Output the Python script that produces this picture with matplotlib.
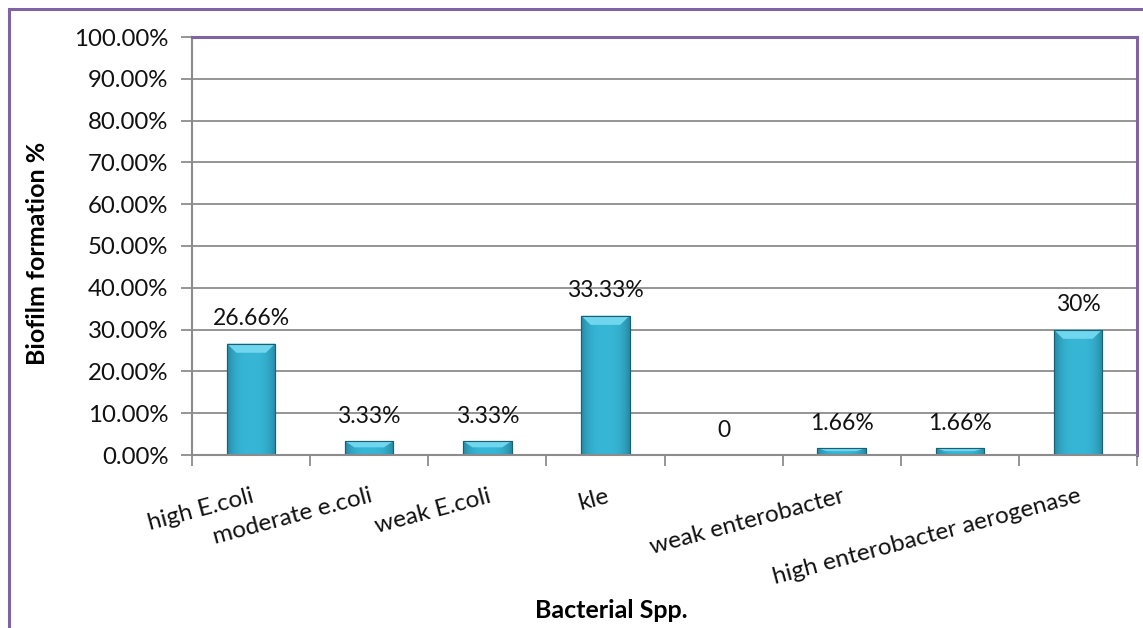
import numpy as np
import matplotlib
matplotlib.use("Agg")
import matplotlib.pyplot as plt
from matplotlib.patches import Rectangle
from matplotlib.ticker import FuncFormatter, FixedLocator

# Biofilm formation by bacterial group
categories = ["high E.coli", "moderate e.coli", "weak E.coli", "kle",
              "", "weak enterobacter", "", "high enterobacter aerogenase"]
values = [26.66, 3.33, 3.33, 33.33, 0.0, 1.66, 1.66, 30.0]
value_labels = ["26.66%", "3.33%", "3.33%", "33.33%", "0", "1.66%", "1.66%", "30%"]
y_ticks = [0, 10, 20, 30, 40, 50, 60, 70, 80, 90, 100]

plt.rcParams["font.family"] = ["Lato", "DejaVu Sans"]

W, H = 1143, 628
fig = plt.figure(figsize=(W / 100, H / 100), dpi=100)
fig.patch.set_facecolor("white")

# outer chart frame
fig.patches.append(Rectangle((9 / W, -0.05), 1.2, (H - 9.5) / H + 0.05,
                             transform=fig.transFigure, fill=False,
                             edgecolor="#8064A2", linewidth=2.2, zorder=0))

ax = fig.add_axes([192 / W, (H - 455) / H, (1137 - 192) / W, (455 - 37) / H])
n = len(values)
x = np.arange(n)
bar_w = 0.41

ax.set_xlim(-0.5, n - 0.5)
ax.set_ylim(0, 100)

# gridlines
ax.yaxis.set_major_locator(FixedLocator(y_ticks))
ax.yaxis.set_major_formatter(FuncFormatter(lambda v, p: f"{v:.2f}%"))
ax.grid(axis="y", color="#8C8C8C", linewidth=1.3, zorder=0)
ax.set_axisbelow(True)

# bars with a soft horizontal shading and bevelled top
grad = np.linspace(0, 1, 64)
shade = 1 - 0.6 * (np.abs(grad - 0.5) * 2) ** 3
base = np.array([0x37, 0xB6, 0xD6]) / 255
dark = np.array([0x1B, 0x6A, 0x80]) / 255
img = np.zeros((1, 64, 3))
for i, s in enumerate(shade):
    img[0, i] = dark + (base - dark) * s
bars = ax.bar(x, values, width=bar_w, color="#2EA9C9", edgecolor="#1B5F72",
              linewidth=0.8, zorder=2)
for b, v in zip(bars, values):
    if v <= 0:
        continue
    x0 = b.get_x()
    im = ax.imshow(img, extent=(x0, x0 + bar_w, 0, v), aspect="auto",
                   zorder=2.1, interpolation="bilinear")
    im.set_clip_path(b)
    cap = min(2.2, v * 0.45)
    ax.add_patch(plt.Polygon([(x0, v), (x0 + bar_w, v),
                              (x0 + bar_w - 0.08, v - cap), (x0 + 0.08, v - cap)],
                             closed=True, facecolor="#6FD6EE", edgecolor="none",
                             zorder=2.2))
    ax.add_patch(Rectangle((x0, 0), bar_w, v, fill=False, edgecolor="#1B5F72",
                           linewidth=0.8, zorder=2.3))

# value labels
for xi, v, lab in zip(x, values, value_labels):
    ax.text(xi, v + 3.4, lab, ha="center", va="bottom", fontsize=16.5, color="#111111")

# axes styling
for side in ("top", "right"):
    ax.spines[side].set_color("#8064A2")
    ax.spines[side].set_linewidth(2.2)
for side in ("left", "bottom"):
    ax.spines[side].set_color("#8C8C8C")
    ax.spines[side].set_linewidth(1.5)

ax.tick_params(axis="y", length=8, width=1.3, color="#8C8C8C", labelsize=17.3,
               pad=9, labelcolor="#111111")
ax.set_xticks(x)
ax.set_xticks(np.arange(n + 1) - 0.5, minor=True)
ax.tick_params(axis="x", which="major", length=0, pad=22)
ax.tick_params(axis="x", which="minor", length=8, width=1.3, color="#8C8C8C")
ax.set_xticklabels(categories, rotation=15, ha="right", va="top",
                   rotation_mode="anchor", fontsize=17.5, color="#111111")

fig.text(38 / W, 1 - 253 / H, "Biofilm formation %", ha="center", va="center",
         rotation=90, fontsize=18, fontweight="bold")
fig.text(611 / W, 1 - 611 / H, "Bacterial Spp.", ha="center", va="center",
         fontsize=18, fontweight="bold")

fig.savefig("out.png", dpi=100)
